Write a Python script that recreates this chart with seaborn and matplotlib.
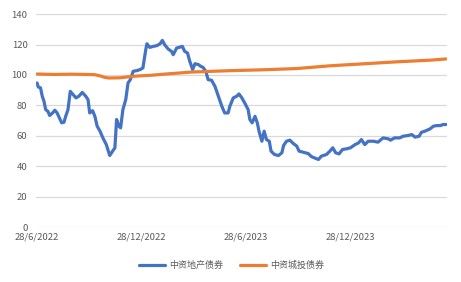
import numpy as np
import pandas as pd
import matplotlib
matplotlib.use("Agg")
import matplotlib.pyplot as plt
import matplotlib.dates as mdates
import seaborn as sns

start_date = "2022-06-28"

# blue series: 中资地产债券 (day offset from start, value)
property_days = [0, 2, 6, 9, 12, 15, 19, 22, 27, 31, 35, 39, 43, 47, 50, 54, 58, 63, 68, 73,
                 79, 85, 89, 92, 97, 101, 105, 110, 115, 121, 127, 132, 136, 139, 143, 146, 150,
                 155, 159, 163, 168, 174, 180, 185, 190, 192, 197, 203, 209, 215, 219, 223, 229,
                 235, 238, 244, 250, 254, 258, 263, 267, 272, 276, 282, 286, 290, 295, 299, 305,
                 311, 317, 323, 328, 334, 337, 343, 349, 353, 358, 363, 369, 372, 376, 381, 385,
                 388, 393, 397, 401, 406, 409, 415, 422, 428, 431, 436, 442, 448, 454, 458, 465,
                 474, 480, 492, 497, 506, 512, 517, 522, 528, 534, 541, 548, 556, 562, 567, 573,
                 579, 588, 596, 605, 614, 618, 625, 634, 640, 649, 655, 661, 668, 672, 678, 687,
                 693, 699, 705, 710, 715]
property_vals = [94.7, 92.1, 91.5, 86.0, 82.7, 77.2, 76.0, 73.3, 75.0, 76.8, 75.0, 71.8, 68.5,
                 68.9, 72.8, 77.2, 89.2, 87.0, 84.9, 86.0, 88.5, 86.0, 83.8, 75.0, 76.5, 72.8,
                 66.3, 63.0, 58.6, 54.2, 47.0, 49.9, 52.0, 70.7, 66.3, 65.2, 77.2, 83.8, 94.7,
                 96.9, 102.4, 102.8, 103.5, 104.6, 116.6, 120.5, 118.1, 118.8, 119.2, 120.5,
                 122.7, 119.9, 117.1, 115.5, 113.3, 117.7, 118.3, 118.8, 115.5, 114.4, 108.9,
                 103.5, 107.4, 106.8, 105.7, 105.0, 102.4, 96.9, 96.5, 92.5, 86.0, 79.4, 75.0,
                 75.0, 79.4, 84.9, 86.0, 87.5, 84.9, 81.6, 77.2, 70.7, 68.5, 72.8, 68.5, 63.0,
                 56.4, 63.0, 57.5, 56.4, 49.9, 47.7, 47.0, 48.8, 53.6, 56.4, 57.1, 54.9, 53.2,
                 49.9, 49.2, 48.3, 46.2, 44.4, 46.6, 47.7, 49.9, 52.1, 48.8, 48.1, 51.0, 51.4,
                 52.1, 54.2, 55.3, 57.5, 54.2, 56.4, 56.4, 55.8, 58.6, 58.0, 57.1, 58.6, 58.6,
                 59.7, 60.2, 60.8, 59.1, 59.7, 62.3, 63.0, 64.5, 66.3, 66.7, 66.7, 67.4, 67.4]

# orange series: 中资城投债券
lgfv_days = [0, 30, 60, 100, 110, 118, 125, 145, 160, 175, 200, 225, 250, 270, 300, 337,
             397, 454, 512, 570, 628, 687, 715]
lgfv_vals = [100.6, 100.3, 100.5, 100.2, 99.4, 98.4, 98.0, 98.1, 98.8, 99.3, 99.8, 100.6,
             101.3, 101.9, 102.3, 102.8, 103.4, 104.2, 106.0, 107.3, 108.6, 109.7, 110.5]

series_names = ["中资地产债券", "中资城投债券"]
tick_dates = ["2022-06-28", "2022-12-28", "2023-06-28", "2023-12-28"]
tick_labels = ["28/6/2022", "28/12/2022", "28/6/2023", "28/12/2023"]
y_ticks = [0, 20, 40, 60, 80, 100, 120, 140]

t0 = pd.Timestamp(start_date)
df = pd.concat([
    pd.DataFrame({"date": t0 + pd.to_timedelta(property_days, unit="D"),
                  "value": property_vals, "series": series_names[0]}),
    pd.DataFrame({"date": t0 + pd.to_timedelta(lgfv_days, unit="D"),
                  "value": lgfv_vals, "series": series_names[1]}),
], ignore_index=True)

sns.set_theme(style="white")
plt.rcParams["font.family"] = ["Noto Sans CJK SC", "DejaVu Sans"]

fig = plt.figure(figsize=(4.61, 2.82), dpi=100)
ax = fig.add_axes([0.078, 0.195, 0.892, 0.755])

sns.lineplot(data=df, x="date", y="value", hue="series", ax=ax,
             palette=["#4472C4", "#ED7D31"], linewidth=2.3, legend=True,
             sort=False, estimator=None)

ax.set_ylim(0, 140)
ax.set_yticks(y_ticks)
ax.set_xlim(t0 - pd.Timedelta(days=2), t0 + pd.Timedelta(days=717))
ax.set_xticks(pd.to_datetime(tick_dates))
ax.set_xticklabels(tick_labels)
ax.grid(axis="y", color="#D9D9D9", linewidth=0.9)
ax.grid(axis="x", visible=False)
for s in ax.spines.values():
    s.set_visible(False)
ax.tick_params(axis="both", length=0, labelsize=6.8, labelcolor="#595959")
ax.tick_params(axis="x", pad=4)
ax.tick_params(axis="y", pad=6)
ax.set_xlabel("")
ax.set_ylabel("")
ax.set_axisbelow(True)

handles, labels = ax.get_legend_handles_labels()
ax.legend(handles, labels, loc="center", bbox_to_anchor=(0.475, -0.18),
          ncol=2, frameon=False, fontsize=6.5, labelcolor="#595959",
          handlelength=2.9, columnspacing=1.9, handletextpad=0.4)

fig.savefig("out.png", dpi=100)
